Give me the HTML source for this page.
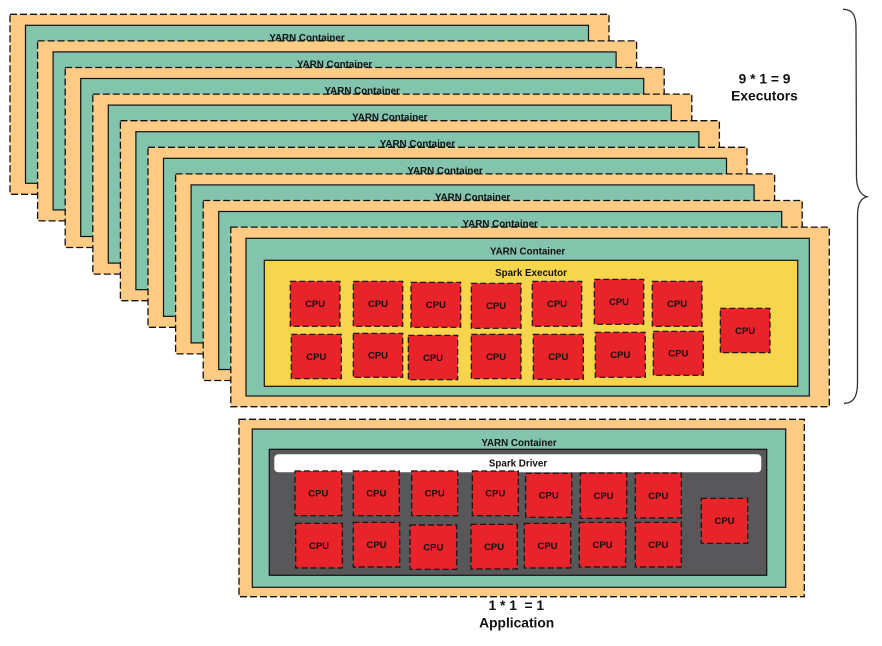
<!DOCTYPE html>
<html><head><meta charset="utf-8"><style>
html,body{margin:0;padding:0;background:#fff;}
svg{display:block;}
text{font-family:"Liberation Sans",Arial,sans-serif;font-weight:bold;fill:#111;}
.o{fill:#FECB84;stroke:#111;stroke-width:1.3;stroke-dasharray:7 3;}
.g{fill:#83C4AD;stroke:#111;stroke-width:1.2;}
.y{fill:#F7D54C;stroke:#111;stroke-width:1.2;}
.d{fill:#58585A;stroke:#111;stroke-width:1.2;}
.c{fill:#E8232A;stroke:#111;stroke-width:1.2;stroke-dasharray:6 3;}
.l{font-size:9.8px;}
.cp{font-size:9.5px;}
.big{font-size:13.8px;white-space:pre;}
</style></head><body>
<svg width="882" height="646" viewBox="0 0 882 646" xmlns="http://www.w3.org/2000/svg">
<!-- background stacked layers -->
<g>
<rect class="o" x="10" y="14.3" width="599" height="180"/><rect class="g" x="25.5" y="25.3" width="563" height="158"/><text class="l" x="307" y="40.8" text-anchor="middle">YARN Container</text>
<rect class="o" x="37.6" y="40.9" width="599" height="180"/><rect class="g" x="53.1" y="51.9" width="563" height="158"/><text class="l" x="334.6" y="67.4" text-anchor="middle">YARN Container</text>
<rect class="o" x="65.2" y="67.5" width="599" height="180"/><rect class="g" x="80.7" y="78.5" width="563" height="158"/><text class="l" x="362.2" y="94" text-anchor="middle">YARN Container</text>
<rect class="o" x="92.8" y="94.1" width="599" height="180"/><rect class="g" x="108.3" y="105.1" width="563" height="158"/><text class="l" x="389.8" y="120.6" text-anchor="middle">YARN Container</text>
<rect class="o" x="120.4" y="120.7" width="599" height="180"/><rect class="g" x="135.9" y="131.7" width="563" height="158"/><text class="l" x="417.4" y="147.2" text-anchor="middle">YARN Container</text>
<rect class="o" x="148" y="147.3" width="599" height="180"/><rect class="g" x="163.5" y="158.3" width="563" height="158"/><text class="l" x="445" y="173.8" text-anchor="middle">YARN Container</text>
<rect class="o" x="175.6" y="173.9" width="599" height="180"/><rect class="g" x="191.1" y="184.9" width="563" height="158"/><text class="l" x="472.6" y="200.4" text-anchor="middle">YARN Container</text>
<rect class="o" x="203.2" y="200.5" width="599" height="180"/><rect class="g" x="218.7" y="211.5" width="563" height="158"/><text class="l" x="500.2" y="227" text-anchor="middle">YARN Container</text>
</g>
<!-- front executor -->
<rect class="o" x="230.8" y="227.1" width="598.5" height="179.6"/>
<rect class="g" x="246" y="238.3" width="563.3" height="157.7"/>
<text class="l" x="527.6" y="254.4" text-anchor="middle">YARN Container</text>
<rect class="y" x="264.3" y="260.3" width="533.4" height="126"/>
<text class="l" x="531" y="276" text-anchor="middle">Spark Executor</text>
<g>
<rect class="c" x="290.3" y="281.3" width="49.7" height="45"/><text class="cp" x="315.1" y="307.2" text-anchor="middle">CPU</text>
<rect class="c" x="353.3" y="281.3" width="49.4" height="45"/><text class="cp" x="378" y="307.2" text-anchor="middle">CPU</text>
<rect class="c" x="411" y="282.3" width="49.7" height="45"/><text class="cp" x="435.8" y="308.2" text-anchor="middle">CPU</text>
<rect class="c" x="471.3" y="283.3" width="49.7" height="45"/><text class="cp" x="496.1" y="309.2" text-anchor="middle">CPU</text>
<rect class="c" x="532.3" y="281.3" width="49.4" height="45"/><text class="cp" x="557" y="307.2" text-anchor="middle">CPU</text>
<rect class="c" x="594.3" y="279.3" width="49.4" height="45"/><text class="cp" x="619" y="305.2" text-anchor="middle">CPU</text>
<rect class="c" x="652.3" y="281.3" width="49.7" height="45"/><text class="cp" x="677.1" y="307.2" text-anchor="middle">CPU</text>
<rect class="c" x="720.3" y="308.3" width="49.7" height="44.4"/><text class="cp" x="745.1" y="333.9" text-anchor="middle">CPU</text>
<rect class="c" x="291.3" y="334.3" width="50" height="44.4"/><text class="cp" x="316.3" y="359.9" text-anchor="middle">CPU</text>
<rect class="c" x="353.3" y="333.3" width="49.4" height="44"/><text class="cp" x="378" y="358.7" text-anchor="middle">CPU</text>
<rect class="c" x="408.3" y="335.3" width="49.4" height="44.4"/><text class="cp" x="433" y="360.9" text-anchor="middle">CPU</text>
<rect class="c" x="471.3" y="334.3" width="49.7" height="44.4"/><text class="cp" x="496.1" y="359.9" text-anchor="middle">CPU</text>
<rect class="c" x="533.3" y="334.3" width="50" height="45"/><text class="cp" x="558.3" y="360.2" text-anchor="middle">CPU</text>
<rect class="c" x="595.3" y="332.3" width="50" height="45"/><text class="cp" x="620.3" y="358.2" text-anchor="middle">CPU</text>
<rect class="c" x="653.3" y="331.3" width="50" height="44"/><text class="cp" x="678.3" y="356.7" text-anchor="middle">CPU</text>
</g>
<!-- brace -->
<path d="M843,9.3 C852,9.5 856,14 856,28 L856.5,178 C857,190 861,195 867,196.8 C861,198.5 857.5,203 857.5,216 L857.5,383 C857.5,397 853,403.5 844,403.3" fill="none" stroke="#333" stroke-width="1.3"/>
<text class="big" x="764.5" y="83.5" text-anchor="middle">9 * 1 = 9</text>
<text class="big" x="764.5" y="100.3" text-anchor="middle">Executors</text>
<!-- driver -->
<rect class="o" x="239" y="419.3" width="565.3" height="177.4"/>
<rect class="g" x="252.3" y="429" width="533.4" height="158.3"/>
<text class="l" x="519" y="446.2" text-anchor="middle">YARN Container</text>
<rect class="d" x="269.3" y="449.3" width="497.4" height="126"/>
<rect x="274.3" y="454.3" width="487" height="18" rx="4" ry="4" fill="#fff"/>
<text class="l" x="518" y="466.3" text-anchor="middle">Spark Driver</text>
<g>
<rect class="c" x="295" y="471" width="46.7" height="44.7"/><text class="cp" x="318.3" y="496.7" text-anchor="middle">CPU</text>
<rect class="c" x="353.3" y="471" width="46" height="44.7"/><text class="cp" x="376.3" y="496.7" text-anchor="middle">CPU</text>
<rect class="c" x="411.7" y="471" width="46" height="44.7"/><text class="cp" x="434.7" y="496.7" text-anchor="middle">CPU</text>
<rect class="c" x="472.3" y="471" width="46" height="44.7"/><text class="cp" x="495.3" y="496.7" text-anchor="middle">CPU</text>
<rect class="c" x="525.7" y="473.3" width="46" height="44"/><text class="cp" x="548.7" y="498.7" text-anchor="middle">CPU</text>
<rect class="c" x="580.3" y="473" width="46.4" height="45.3"/><text class="cp" x="603.5" y="499" text-anchor="middle">CPU</text>
<rect class="c" x="635.3" y="473" width="46" height="45"/><text class="cp" x="658.3" y="498.9" text-anchor="middle">CPU</text>
<rect class="c" x="701.3" y="498.3" width="46.4" height="45"/><text class="cp" x="724.5" y="524.2" text-anchor="middle">CPU</text>
<rect class="c" x="295.7" y="523.3" width="46.6" height="44.7"/><text class="cp" x="319" y="549" text-anchor="middle">CPU</text>
<rect class="c" x="353.3" y="522.3" width="46.4" height="44.7"/><text class="cp" x="376.5" y="548" text-anchor="middle">CPU</text>
<rect class="c" x="410" y="525" width="46.7" height="44.3"/><text class="cp" x="433.3" y="550.5" text-anchor="middle">CPU</text>
<rect class="c" x="471" y="524.3" width="46.3" height="44.7"/><text class="cp" x="494.1" y="550" text-anchor="middle">CPU</text>
<rect class="c" x="524.3" y="523.3" width="46.4" height="44.7"/><text class="cp" x="547.5" y="549" text-anchor="middle">CPU</text>
<rect class="c" x="579.3" y="522.3" width="46.4" height="44.7"/><text class="cp" x="602.5" y="548" text-anchor="middle">CPU</text>
<rect class="c" x="635.3" y="522.3" width="46" height="44.7"/><text class="cp" x="658.3" y="548" text-anchor="middle">CPU</text>
</g>
<text class="big" x="516.3" y="610" text-anchor="middle">1 * 1  = 1</text>
<text class="big" x="516.7" y="627.5" text-anchor="middle">Application</text>
</svg>
</body></html>
